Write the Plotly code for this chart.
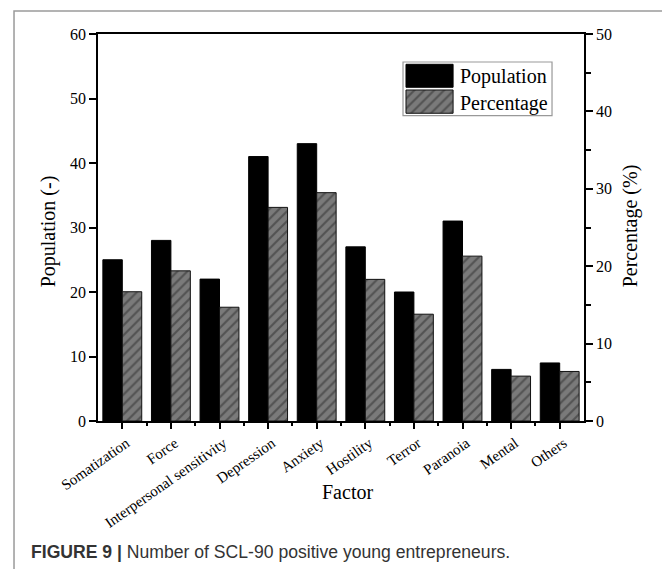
import plotly.graph_objects as go

# ---- data ----
factors = ["Somatization", "Force", "Interpersonal sensitivity", "Depression", "Anxiety",
           "Hostility", "Terror", "Paranoia", "Mental", "Others"]
population = [25, 28, 22, 41, 43, 27, 20, 31, 8, 9]
percentage = [16.7, 19.4, 14.7, 27.6, 29.5, 18.3, 13.8, 21.3, 5.8, 6.4]
series_names = ["Population", "Percentage"]
left_ticks = [0, 10, 20, 30, 40, 50, 60]
right_ticks = [0, 10, 20, 30, 40, 50]

idx = list(range(len(factors)))
SERIF = "Liberation Serif, Times New Roman, serif"
GRAY = "#7a7a7a"
HATCH = dict(shape="/", bgcolor=GRAY, fgcolor="#2a2a2a", size=7, solidity=0.3)

fig = go.Figure()
fig.add_bar(x=idx, y=population, width=0.4, offset=-0.4, yaxis="y",
            marker=dict(color="black", line=dict(color="black", width=1)),
            name=series_names[0])
fig.add_bar(x=idx, y=percentage, width=0.4, offset=0, yaxis="y2",
            marker=dict(color=GRAY, pattern=HATCH, line=dict(color="#111111", width=1)),
            name=series_names[1])

# legend swatches drawn on an auxiliary (hidden) axis pair inside the legend box
fig.add_bar(x=[0.178], y=[0.428], base=[0.529], width=[0.316], xaxis="x3", yaxis="y3",
            marker=dict(color="black", line=dict(color="black", width=1)), hoverinfo="skip")
fig.add_bar(x=[0.178], y=[0.434], base=[0.045], width=[0.316], xaxis="x3", yaxis="y3",
            marker=dict(color=GRAY, pattern=HATCH, line=dict(color="#111111", width=1)),
            hoverinfo="skip")

axis_common = dict(showgrid=False, zeroline=False, showline=True, linecolor="black",
                   linewidth=1.5, ticks="outside", tickcolor="black", tickwidth=1.5)
YFONT = dict(family=SERIF, size=16, color="black")

LEG = dict(x0=0.6276, x1=0.9342, y0=0.7889, y1=0.9277)

fig.update_layout(
    width=670, height=569,
    margin=dict(l=90, r=94, t=26, b=156),
    paper_bgcolor="white", plot_bgcolor="rgba(0,0,0,0)",
    barmode="overlay", showlegend=False,
    xaxis=dict(**axis_common, range=[-0.5, 9.5], tickmode="array", tickvals=idx,
               ticktext=factors, tickangle=-35, ticklen=6, mirror=True, ticklabelshift=4,
               tickfont=dict(family=SERIF, size=15, color="black"),
               minor=dict(tickvals=[i - 0.5 for i in idx[1:]], ticks="outside",
                          ticklen=3.5, tickwidth=1.5, tickcolor="black", showgrid=False)),
    yaxis=dict(**axis_common, range=[0, 60], tickmode="array", tickvals=left_ticks,
               ticklen=7, tickfont=YFONT),
    yaxis2=dict(**axis_common, range=[0, 50], tickmode="array", tickvals=right_ticks,
                ticklen=7, tickfont=YFONT, overlaying="y", side="right",
                minor=dict(dtick=5, ticks="outside", ticklen=5, tickwidth=1.5,
                           tickcolor="black", showgrid=False)),
    xaxis3=dict(domain=[LEG["x0"], LEG["x1"]], anchor="y3", range=[0, 1], visible=False,
                fixedrange=True),
    yaxis3=dict(domain=[LEG["y0"], LEG["y1"]], anchor="x3", range=[0, 1], visible=False,
                fixedrange=True),
    font=dict(family=SERIF, color="black"),
)

# legend box
fig.add_shape(type="rect", xref="paper", yref="paper", layer="below",
              line=dict(color="#999999", width=1.2), fillcolor="white", **LEG)
# outer figure frame
fig.add_shape(type="rect", xref="paper", yref="paper",
              x0=-0.1728, x1=1.1708, y0=-0.40, y1=1.0594,
              line=dict(color="#9a9a9a", width=1.5), fillcolor="rgba(0,0,0,0)")

ann = [
    dict(text=series_names[0], xref="x3", yref="y3", x=0.369, y=0.726,
         xanchor="left", yanchor="middle", font=dict(family=SERIF, size=20)),
    dict(text=series_names[1], xref="x3", yref="y3", x=0.369, y=0.231,
         xanchor="left", yanchor="middle", font=dict(family=SERIF, size=20)),
    dict(text="Population (-)", xref="paper", yref="paper", x=-0.1029, y=0.49,
         textangle=-90, xanchor="center", yanchor="middle", font=dict(family=SERIF, size=20)),
    dict(text="Percentage (%)", xref="paper", yref="paper", x=1.0947, y=0.503,
         textangle=-90, xanchor="center", yanchor="middle", font=dict(family=SERIF, size=20)),
    dict(text="Factor", xref="paper", yref="paper", x=0.514, y=-0.1827,
         xanchor="center", yanchor="middle", font=dict(family=SERIF, size=20)),
    dict(text="<b>FIGURE 9 |</b> Number of SCL-90 positive young entrepreneurs.",
         xref="paper", yref="paper", x=-0.142, y=-0.3385, xanchor="left", yanchor="middle",
         font=dict(family="Liberation Sans, Arial, sans-serif", size=17.6, color="#333333")),
]
for a in ann:
    a["showarrow"] = False
    fig.add_annotation(**a)

fig.write_html("out.html")
